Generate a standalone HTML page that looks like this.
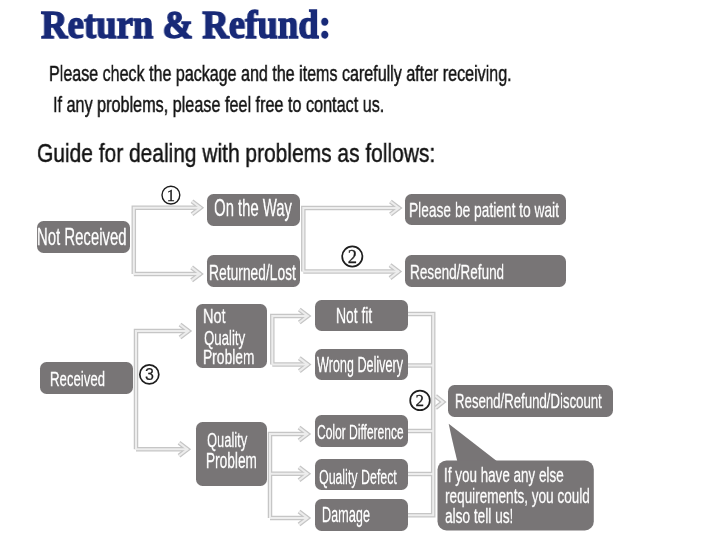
<!DOCTYPE html>
<html><head><meta charset="utf-8"><style>
html,body{margin:0;padding:0;background:#fff;}
body{width:716px;height:536px;position:relative;overflow:hidden;}
#w{position:absolute;left:0;top:0;width:716px;height:536px;filter:blur(0.4px);}
.t{position:absolute;white-space:nowrap;transform-origin:0 0;will-change:transform;}
.b{position:absolute;background:rgb(120,117,118);}
svg{position:absolute;left:0;top:0;}
</style></head><body><div id="w">
<svg width="716" height="536" viewBox="0 0 716 536">
<g fill="none" stroke="#c6c6c6" stroke-width="4.5" stroke-linejoin="miter" stroke-linecap="butt"><path d="M133.8 273.9 L133.8 207.7 L201 207.7"/><path d="M133.8 273.9 L201 273.9"/><path d="M192.0 201.2 L200.5 207.7 L192.0 214.2"/><path d="M191.6 267.4 L200.1 273.9 L191.6 280.4"/><path d="M303.3 271.6 L303.3 208 L399.4 208"/><path d="M303.3 271.6 L399 271.6"/><path d="M390.4 201.5 L398.9 208.0 L390.4 214.5"/><path d="M390.0 265.1 L398.5 271.6 L390.0 278.1"/><path d="M136 449.3 L136 331 L189 331"/><path d="M136 449.3 L188 449.3"/><path d="M180.0 324.5 L188.5 331.0 L180.0 337.5"/><path d="M179.0 442.8 L187.5 449.3 L179.0 455.8"/><path d="M272.3 364.6 L272.3 316 L308.3 316"/><path d="M272.3 364.6 L308.3 364.6"/><path d="M299.3 309.5 L307.8 316.0 L299.3 322.5"/><path d="M299.3 358.1 L307.8 364.6 L299.3 371.1"/><path d="M270 518 L270 434 L308 434"/><path d="M270 473.7 L308 473.7"/><path d="M270 518 L308 518"/><path d="M299.0 427.5 L307.5 434.0 L299.0 440.5"/><path d="M299.0 467.2 L307.5 473.7 L299.0 480.2"/><path d="M299.0 511.5 L307.5 518.0 L299.0 524.5"/><path d="M408 314 L433.2 314 L433.2 515.2 L408 515.2"/><path d="M408 365.5 L433.2 365.5"/><path d="M408 431 L433.2 431"/><path d="M408 474 L433.2 474"/><path d="M435.5 396.0 L443.0 402.0 L435.5 408.0"/></g>
<g fill="none" stroke="#ededed" stroke-width="2" stroke-linejoin="miter" stroke-linecap="butt"><path d="M133.8 273.9 L133.8 207.7 L201 207.7"/><path d="M133.8 273.9 L201 273.9"/><path d="M192.0 201.2 L200.5 207.7 L192.0 214.2"/><path d="M191.6 267.4 L200.1 273.9 L191.6 280.4"/><path d="M303.3 271.6 L303.3 208 L399.4 208"/><path d="M303.3 271.6 L399 271.6"/><path d="M390.4 201.5 L398.9 208.0 L390.4 214.5"/><path d="M390.0 265.1 L398.5 271.6 L390.0 278.1"/><path d="M136 449.3 L136 331 L189 331"/><path d="M136 449.3 L188 449.3"/><path d="M180.0 324.5 L188.5 331.0 L180.0 337.5"/><path d="M179.0 442.8 L187.5 449.3 L179.0 455.8"/><path d="M272.3 364.6 L272.3 316 L308.3 316"/><path d="M272.3 364.6 L308.3 364.6"/><path d="M299.3 309.5 L307.8 316.0 L299.3 322.5"/><path d="M299.3 358.1 L307.8 364.6 L299.3 371.1"/><path d="M270 518 L270 434 L308 434"/><path d="M270 473.7 L308 473.7"/><path d="M270 518 L308 518"/><path d="M299.0 427.5 L307.5 434.0 L299.0 440.5"/><path d="M299.0 467.2 L307.5 473.7 L299.0 480.2"/><path d="M299.0 511.5 L307.5 518.0 L299.0 524.5"/><path d="M408 314 L433.2 314 L433.2 515.2 L408 515.2"/><path d="M408 365.5 L433.2 365.5"/><path d="M408 431 L433.2 431"/><path d="M408 474 L433.2 474"/><path d="M435.5 396.0 L443.0 402.0 L435.5 408.0"/></g>
<g fill="none" stroke="#1e1e1e" stroke-width="1.7">
<circle cx="170.9" cy="195.1" r="8.9" stroke-width="1.4"/>
<circle cx="352.3" cy="256.5" r="10.1"/>
<circle cx="149.3" cy="374.4" r="9.5"/>
<circle cx="420" cy="400.4" r="9.8"/>
</g>
<g fill="#1e1e1e" stroke="#1e1e1e" stroke-width="0.3" font-family="Liberation Serif" text-anchor="middle">
<text x="170.9" y="200.9" font-size="16.5" stroke-width="0.3">1</text>
<text x="352.4" y="263.2" font-size="18.5">2</text>
<text x="149.5" y="380" font-size="16" font-family="Liberation Sans" stroke-width="0.2">3</text>
<text x="419.8" y="406.4" font-size="17">2</text>
</g>
<path d="M448.7 423.8 Q452 440 457.5 462 L498 462 Z" fill="rgb(120,117,118)"/>
<rect x="437.5" y="460.5" width="156.3" height="70" rx="9" fill="rgb(120,117,118)"/>
</svg>
<div class="b" style="left:36.5px;top:221px;width:93.5px;height:32px;border-radius:6.5px"></div>
<div class="b" style="left:206.5px;top:194px;width:93.5px;height:31.5px;border-radius:6.5px"></div>
<div class="b" style="left:206.5px;top:255.4px;width:93.5px;height:31.599999999999994px;border-radius:6.5px"></div>
<div class="b" style="left:405px;top:194px;width:161px;height:31px;border-radius:6.5px"></div>
<div class="b" style="left:405px;top:255px;width:161px;height:31.5px;border-radius:6.5px"></div>
<div class="b" style="left:39.5px;top:362px;width:93.5px;height:31.5px;border-radius:6.5px"></div>
<div class="b" style="left:196px;top:304px;width:71px;height:64px;border-radius:6.5px"></div>
<div class="b" style="left:196px;top:422px;width:71px;height:64px;border-radius:6.5px"></div>
<div class="b" style="left:315px;top:300px;width:93px;height:31px;border-radius:6.5px"></div>
<div class="b" style="left:315px;top:349px;width:93px;height:31px;border-radius:6.5px"></div>
<div class="b" style="left:315px;top:415px;width:93px;height:32px;border-radius:6.5px"></div>
<div class="b" style="left:315px;top:458.6px;width:93px;height:31.799999999999955px;border-radius:6.5px"></div>
<div class="b" style="left:315px;top:499px;width:93px;height:32px;border-radius:6.5px"></div>
<div class="b" style="left:448px;top:385px;width:165px;height:32px;border-radius:6.5px"></div>
<div class="t" style="left:41.13px;top:4.92px;font-size:40.46px;line-height:40.46px;font-family:'Liberation Serif';font-weight:bold;color:#182a78;transform:scaleX(0.9084);-webkit-text-stroke:1.5px #182a78;">Return & Refund:</div>
<div class="t" style="left:48.71px;top:63.24px;font-size:21.80px;line-height:21.80px;font-family:'Liberation Sans';font-weight:normal;color:#141414;transform:scaleX(0.7371);-webkit-text-stroke:0.45px #141414;">Please check the package and the items carefully after receiving.</div>
<div class="t" style="left:53.04px;top:94.34px;font-size:21.80px;line-height:21.80px;font-family:'Liberation Sans';font-weight:normal;color:#141414;transform:scaleX(0.7430);-webkit-text-stroke:0.45px #141414;">If any problems, please feel free to contact us.</div>
<div class="t" style="left:36.65px;top:140.66px;font-size:25.44px;line-height:25.44px;font-family:'Liberation Sans';font-weight:normal;color:#141414;transform:scaleX(0.8235);-webkit-text-stroke:0.45px #141414;">Guide for dealing with problems as follows:</div>
<div class="t" style="left:37.31px;top:226.16px;font-size:23.26px;line-height:23.26px;font-family:'Liberation Sans';font-weight:normal;color:#fff;transform:scaleX(0.6413);-webkit-text-stroke:0.3px #fff;">Not Received</div>
<div class="t" style="left:213.91px;top:197.24px;font-size:23.69px;line-height:23.69px;font-family:'Liberation Sans';font-weight:normal;color:#fff;transform:scaleX(0.6271);-webkit-text-stroke:0.3px #fff;">On the Way</div>
<div class="t" style="left:208.69px;top:262.11px;font-size:21.66px;line-height:21.66px;font-family:'Liberation Sans';font-weight:normal;color:#fff;transform:scaleX(0.6386);-webkit-text-stroke:0.3px #fff;">Returned/Lost</div>
<div class="t" style="left:408.90px;top:200.12px;font-size:20.64px;line-height:20.64px;font-family:'Liberation Sans';font-weight:normal;color:#fff;transform:scaleX(0.6673);-webkit-text-stroke:0.3px #fff;">Please be patient to wait</div>
<div class="t" style="left:410.22px;top:262.07px;font-size:20.35px;line-height:20.35px;font-family:'Liberation Sans';font-weight:normal;color:#fff;transform:scaleX(0.6658);-webkit-text-stroke:0.3px #fff;">Resend/Refund</div>
<div class="t" style="left:50.04px;top:367.96px;font-size:21.08px;line-height:21.08px;font-family:'Liberation Sans';font-weight:normal;color:#fff;transform:scaleX(0.6259);-webkit-text-stroke:0.3px #fff;">Received</div>
<div class="t" style="left:203.34px;top:305.60px;font-size:20.78px;line-height:20.78px;font-family:'Liberation Sans';font-weight:normal;color:#fff;transform:scaleX(0.6997);-webkit-text-stroke:0.3px #fff;">Not</div>
<div class="t" style="left:203.97px;top:327.57px;font-size:20.35px;line-height:20.35px;font-family:'Liberation Sans';font-weight:normal;color:#fff;transform:scaleX(0.6478);-webkit-text-stroke:0.3px #fff;">Quality</div>
<div class="t" style="left:203.39px;top:347.27px;font-size:20.35px;line-height:20.35px;font-family:'Liberation Sans';font-weight:normal;color:#fff;transform:scaleX(0.6794);-webkit-text-stroke:0.3px #fff;">Problem</div>
<div class="t" style="left:206.78px;top:430.27px;font-size:20.35px;line-height:20.35px;font-family:'Liberation Sans';font-weight:normal;color:#fff;transform:scaleX(0.6350);-webkit-text-stroke:0.3px #fff;">Quality</div>
<div class="t" style="left:206.21px;top:450.34px;font-size:21.80px;line-height:21.80px;font-family:'Liberation Sans';font-weight:normal;color:#fff;transform:scaleX(0.6264);-webkit-text-stroke:0.3px #fff;">Problem</div>
<div class="t" style="left:335.59px;top:305.09px;font-size:21.80px;line-height:21.80px;font-family:'Liberation Sans';font-weight:normal;color:#fff;transform:scaleX(0.6371);-webkit-text-stroke:0.3px #fff;">Not fit</div>
<div class="t" style="left:317.30px;top:353.72px;font-size:22.24px;line-height:22.24px;font-family:'Liberation Sans';font-weight:normal;color:#fff;transform:scaleX(0.5673);-webkit-text-stroke:0.3px #fff;">Wrong Delivery</div>
<div class="t" style="left:316.90px;top:421.41px;font-size:21.08px;line-height:21.08px;font-family:'Liberation Sans';font-weight:normal;color:#fff;transform:scaleX(0.5697);-webkit-text-stroke:0.3px #fff;">Color Difference</div>
<div class="t" style="left:319.20px;top:465.51px;font-size:21.08px;line-height:21.08px;font-family:'Liberation Sans';font-weight:normal;color:#fff;transform:scaleX(0.5876);-webkit-text-stroke:0.3px #fff;">Quality Defect</div>
<div class="t" style="left:321.98px;top:504.20px;font-size:22.38px;line-height:22.38px;font-family:'Liberation Sans';font-weight:normal;color:#fff;transform:scaleX(0.5670);-webkit-text-stroke:0.3px #fff;">Damage</div>
<div class="t" style="left:455.14px;top:390.77px;font-size:20.35px;line-height:20.35px;font-family:'Liberation Sans';font-weight:normal;color:#fff;transform:scaleX(0.6490);-webkit-text-stroke:0.3px #fff;">Resend/Refund/Discount</div>
<div class="t" style="left:444.19px;top:465.37px;font-size:20.35px;line-height:20.35px;font-family:'Liberation Sans';font-weight:normal;color:#fff;transform:scaleX(0.6608);-webkit-text-stroke:0.3px #fff;">If you have any else</div>
<div class="t" style="left:444.59px;top:485.57px;font-size:20.35px;line-height:20.35px;font-family:'Liberation Sans';font-weight:normal;color:#fff;transform:scaleX(0.6671);-webkit-text-stroke:0.3px #fff;">requirements, you could</div>
<div class="t" style="left:444.85px;top:505.77px;font-size:20.35px;line-height:20.35px;font-family:'Liberation Sans';font-weight:normal;color:#fff;transform:scaleX(0.6714);-webkit-text-stroke:0.3px #fff;">also tell us!</div>
</div></body></html>
